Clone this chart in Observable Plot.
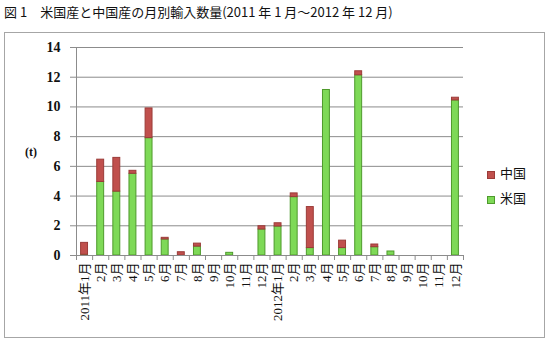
<!DOCTYPE html>
<html>
<head>
<meta charset="utf-8">
<script src="https://cdn.jsdelivr.net/npm/d3@7"></script>
<script src="https://cdn.jsdelivr.net/npm/@observablehq/plot@0.6"></script>
<style>
  body { margin: 0; background: #fff; }
  #wrap { position: relative; width: 551px; height: 345px; overflow: hidden; }
  #title { position: absolute; left: 4px; top: 2px; font: 13px "Noto Sans CJK JP", sans-serif; color: #111; white-space: nowrap; }
  #box { position: absolute; left: 4px; top: 32px; width: 539px; height: 304px; border: 1px solid #a6a6a6; }
  #unit { position: absolute; left: 25px; top: 145px; font: bold 12px "Liberation Serif", serif; color: #111; }
  #legend { position: absolute; left: 487px; top: 160px; font: 13px "Noto Sans CJK JP", sans-serif; color: #111; }
  .li { display: flex; align-items: center; height: 25px; }
  .sw { width: 6px; height: 6px; margin-right: 5px; margin-top: 4px; }
  #chart { position: absolute; left: 0; top: 0; }
</style>
</head>
<body>
<div id="wrap">
  <div id="box"></div>
  <div id="title">図 1　米国産と中国産の月別輸入数量(2011 年 1 月～2012 年 12 月)</div>
  <div id="unit">(t)</div>
  <div id="chart"></div>
  <div id="legend"></div>
</div>
<script>
const months = ["2011年1月","2月","3月","4月","5月","6月","7月","8月","9月","10月","11月","12月",
                "2012年1月","2月","3月","4月","5月","6月","7月","8月","9月","10月","11月","12月"];
const usValues = [0.05,4.95,4.3,5.5,7.9,1.08,0,0.6,0,0.18,0,1.75,
                  1.95,3.93,0.5,11.14,0.5,12.13,0.56,0.27,0,0,0,10.44];
const cnValues = [0.8,1.5,2.27,0.2,2.0,0.11,0.22,0.2,0,0,0,0.22,
                  0.22,0.25,2.76,0,0.5,0.27,0.18,0,0,0,0,0.18];
const seriesNames = ["中国","米国"];
const seriesFill = ["#c0504d","#7ed957"];
const seriesStroke = ["#9b3b38","#4e9a2c"];
const yTicks = [0,2,4,6,8,10,12,14];

const rows = [];
months.forEach((m, i) => {
  rows.push({i, series: "米国", y1: 0, y2: usValues[i]});
  rows.push({i, series: "中国", y1: usValues[i], y2: usValues[i] + cnValues[i]});
});
const bars = rows.filter(d => d.y2 - d.y1 > 0);

const axisColor = "#8c8c8c";
const chart = Plot.plot({
  width: 551,
  height: 345,
  marginLeft: 76,
  marginRight: 88,
  marginTop: 47,
  marginBottom: 90,
  x: {type: "linear", domain: [0, months.length], axis: null},
  y: {domain: [0, 14], axis: null},
  color: {domain: seriesNames, range: seriesFill},
  marks: [
    Plot.gridY(yTicks.filter(t => t > 0), {stroke: axisColor, strokeOpacity: 1}),
    Plot.rectY(bars, {
      x1: d => d.i, x2: d => d.i + 1, y1: "y1", y2: "y2",
      insetLeft: 4.6, insetRight: 4.6,
      fill: "series",
      stroke: d => seriesStroke[seriesNames.indexOf(d.series)],
      strokeWidth: 1
    }),
    Plot.ruleX([0], {stroke: axisColor}),
    Plot.ruleY([0], {stroke: axisColor}),
    Plot.axisY({
      ticks: yTicks, tickSize: 6, tickPadding: 10, stroke: axisColor,
      fontSize: 14, fontWeight: "bold", fontFamily: "Liberation Serif, serif", fill: "#111", label: null
    }),
    Plot.axisX({
      ticks: d3.range(months.length + 1), tickSize: 5, tickFormat: () => "", stroke: axisColor, label: null
    }),
    Plot.axisX({
      ticks: d3.range(months.length).map(i => i + 0.5), tickSize: 0, tickPadding: 7,
      tickFormat: v => months[Math.floor(v)], tickRotate: -90,
      fontSize: 13, fontFamily: "Liberation Serif, Noto Sans CJK JP, serif", fill: "#111", label: null
    })
  ]
});
document.getElementById("chart").append(chart);

const legend = document.getElementById("legend");
seriesNames.forEach((n, k) => {
  const row = document.createElement("div");
  row.className = "li";
  const sw = document.createElement("span");
  sw.className = "sw";
  sw.style.background = seriesFill[k];
  sw.style.border = "1px solid " + seriesStroke[k];
  const t = document.createElement("span");
  t.textContent = n;
  row.append(sw, t);
  legend.append(row);
});
</script>
</body>
</html>
